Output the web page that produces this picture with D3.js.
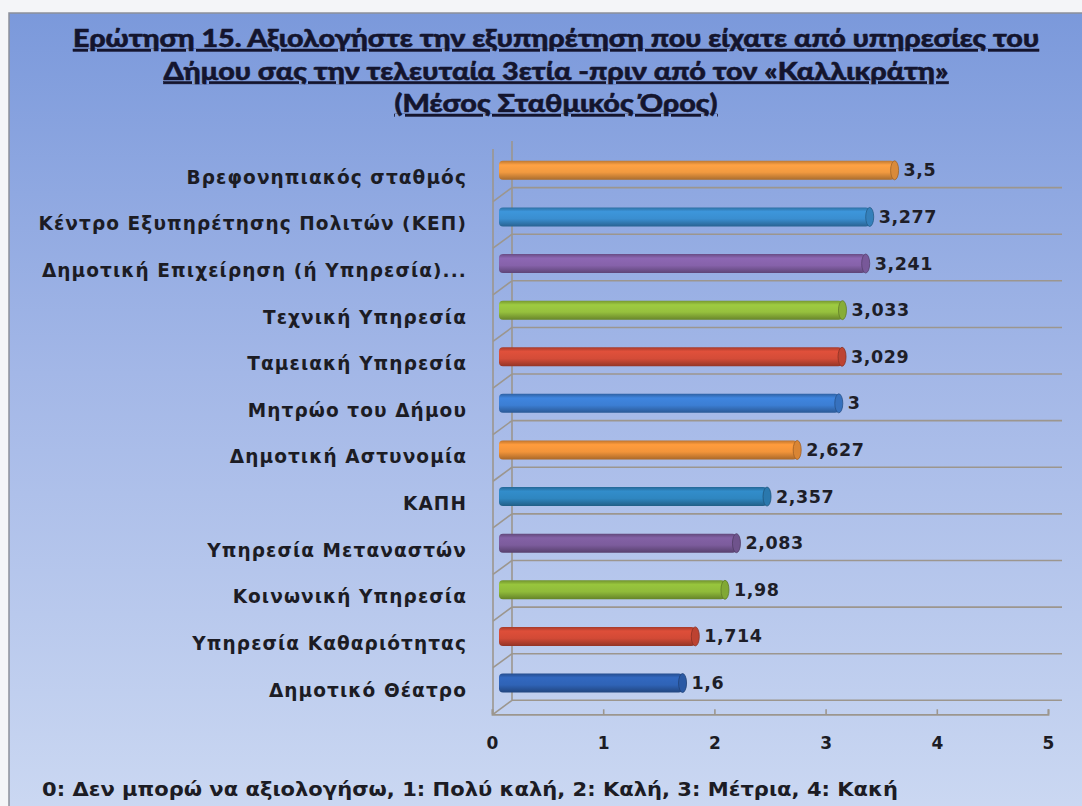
<!DOCTYPE html>
<html><head><meta charset="utf-8">
<script src="https://cdn.jsdelivr.net/npm/d3@7"></script>
<style>
html,body{margin:0;padding:0;background:#f4f5f8;}
svg{display:block;}
</style></head>
<body>
<svg id="chart" width="1082" height="806"></svg>
<script>
const titleLines = [
  "Ερώτηση 15. Αξιολογήστε την εξυπηρέτηση που είχατε από υπηρεσίες του",
  "Δήμου σας την τελευταία 3ετία -πριν από τον «Καλλικράτη»",
  "(Μέσος Σταθμικός Όρος)"
];
const categories = [
  "Βρεφονηπιακός σταθμός",
  "Κέντρο Εξυπηρέτησης Πολιτών (ΚΕΠ)",
  "Δημοτική Επιχείρηση (ή Υπηρεσία)...",
  "Τεχνική Υπηρεσία",
  "Ταμειακή Υπηρεσία",
  "Μητρώο του Δήμου",
  "Δημοτική Αστυνομία",
  "ΚΑΠΗ",
  "Υπηρεσία Μεταναστών",
  "Κοινωνική Υπηρεσία",
  "Υπηρεσία Καθαριότητας",
  "Δημοτικό Θέατρο"
];
const values = [3.5, 3.277, 3.241, 3.033, 3.029, 3, 2.627, 2.357, 2.083, 1.98, 1.714, 1.6];
const barColors = ["#f29a40","#3a8ed0","#8662aa","#96c03e","#d44c38","#3c7ed3",
                   "#f2943a","#2f86c0","#7c5c9c","#90bb3a","#d24a36","#2f63b6"];
const xTicks = [0, 1, 2, 3, 4, 5];
const footerText = "0: Δεν μπορώ να αξιολογήσω, 1: Πολύ καλή, 2: Καλή, 3: Μέτρια, 4: Κακή";

const svg = d3.select("#chart");
const defs = svg.append("defs");

// background gradient
const bg = defs.append("linearGradient").attr("id","bg").attr("x1",0).attr("y1",0).attr("x2",0).attr("y2",1);
bg.append("stop").attr("offset","0%").attr("stop-color","#7b99db");
bg.append("stop").attr("offset","45%").attr("stop-color","#a3b7e7");
bg.append("stop").attr("offset","100%").attr("stop-color","#cbd8f2");

svg.append("rect").attr("x",9).attr("y",13).attr("width",1080).attr("height",800)
  .attr("fill","url(#bg)").attr("stroke","#8c909a").attr("stroke-width",1.5);

// title
const title = svg.append("g").attr("font-family","Lato,'Open Sans',sans-serif")
  .attr("font-weight",900).attr("font-size",24).attr("fill","#14152e")
  .attr("stroke","#14152e").attr("stroke-width",0.5);
const titleWidths = [966, 785, 323];
title.selectAll("text").data(titleLines).join("text")
  .attr("x",556).attr("y",(d,i)=>47 + i*32.5)
  .attr("text-anchor","middle")
  .attr("textLength",(d,i)=>titleWidths[i]).attr("lengthAdjust","spacingAndGlyphs")
  .style("text-decoration","underline")
  .text(d=>d);

// scales
const xBar = d3.scaleLinear().domain([0,5]).range([504,1062]);
const xFront = d3.scaleLinear().domain([0,5]).range([492,1048]);
const y = d3.scalePoint().domain(categories).range([170.3, 683]);
const half = (683-170.3)/11/2;

// gridlines (back wall boundaries)
const grid = svg.append("g").attr("stroke","#9c968e").attr("stroke-width",1.6).attr("fill","none");
grid.selectAll("line.g").data(categories).join("line").attr("class","g")
  .attr("x1",512).attr("x2",1062)
  .attr("y1",d=>y(d)+half-6).attr("y2",d=>y(d)+half-6);
// connectors on the side wall
grid.selectAll("line.c").data(categories).join("line").attr("class","c")
  .attr("x1",493).attr("x2",512)
  .attr("y1",d=>y(d)+half+8).attr("y2",d=>y(d)+half-6);
// back & front vertical axis
grid.append("line").attr("x1",512).attr("x2",512).attr("y1",y(categories[0])-half-6).attr("y2",y(categories[11])+half-6);
grid.append("line").attr("x1",493).attr("x2",493).attr("y1",y(categories[0])-half+2).attr("y2",y(categories[11])+half+8);

// bottom front axis
const axisG = svg.append("g").attr("transform",`translate(0,${y(categories[11])+half+8})`);
axisG.call(d3.axisBottom(xFront).tickValues(xTicks).tickSize(-5).tickPadding(23).tickFormat(d3.format("d")));
axisG.select(".domain").attr("stroke","#9c968e").attr("stroke-width",1.8);
axisG.selectAll(".tick line").attr("stroke","#9c968e").attr("stroke-width",1.6);
axisG.selectAll(".tick text").attr("font-family","'DejaVu Sans',sans-serif").attr("font-weight","bold")
  .attr("font-size",17).attr("fill","#1c1c24");

// bar gradients
barColors.forEach((c,i)=>{
  const g = defs.append("linearGradient").attr("id","bar"+i).attr("x1",0).attr("y1",0).attr("x2",0).attr("y2",1);
  const col = d3.color(c);
  g.append("stop").attr("offset","0%").attr("stop-color",col.darker(0.7));
  g.append("stop").attr("offset","22%").attr("stop-color",col.brighter(0.15));
  g.append("stop").attr("offset","60%").attr("stop-color",col);
  g.append("stop").attr("offset","100%").attr("stop-color",col.darker(1.0));
});

const barH = 19;
const bars = svg.append("g");
bars.selectAll("rect").data(values).join("rect")
  .attr("x",xBar(0)-5)
  .attr("y",(d,i)=>y(categories[i])-barH/2)
  .attr("width",d=>xBar(d)-xBar(0)+5)
  .attr("height",barH)
  .attr("rx",4)
  .attr("fill",(d,i)=>`url(#bar${i})`);
bars.selectAll("ellipse").data(values).join("ellipse")
  .attr("cx",d=>xBar(d))
  .attr("cy",(d,i)=>y(categories[i]))
  .attr("rx",4).attr("ry",barH/2)
  .attr("fill",(d,i)=>d3.color(barColors[i]).darker(0.3))
  .attr("stroke",(d,i)=>d3.color(barColors[i]).darker(1.2)).attr("stroke-width",0.8);

// value labels
const greek = d3.formatLocale({decimal:",", thousands:".", grouping:[3], currency:["","€"]});
const fmt = greek.format("~g");
svg.append("g").selectAll("text").data(values).join("text")
  .attr("x",d=>xBar(d)+9)
  .attr("y",(d,i)=>y(categories[i])+6)
  .attr("font-family","'DejaVu Sans',sans-serif").attr("font-weight","bold").attr("font-size",17.5)
  .attr("letter-spacing",0.6)
  .attr("fill","#1e1e28")
  .text(d=>fmt(d));

// category labels
svg.append("g").selectAll("text").data(categories).join("text")
  .attr("x",467)
  .attr("y",d=>y(d)+13.5)
  .attr("text-anchor","end")
  .attr("font-family","'DejaVu Sans',sans-serif").attr("font-weight","bold").attr("font-size",18.5)
  .attr("letter-spacing",1.1)
  .attr("fill","#1c1c24")
  .text(d=>d);

// footer
svg.append("text").attr("x",42).attr("y",796)
  .attr("font-family","'DejaVu Sans',sans-serif").attr("font-weight","bold").attr("font-size",19)
  .attr("textLength",856).attr("lengthAdjust","spacingAndGlyphs")
  .attr("fill","#1c1c24")
  .text(footerText);
</script>
</body></html>
